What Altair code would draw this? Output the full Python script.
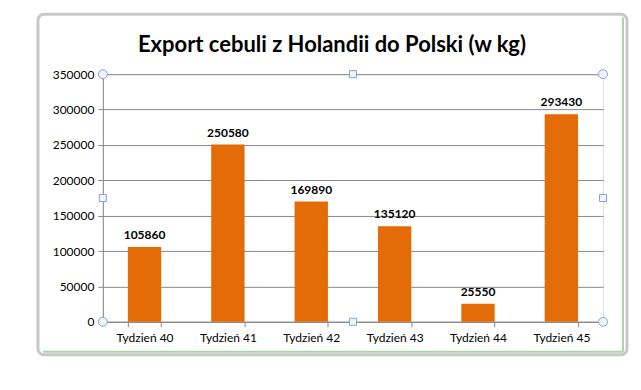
import altair as alt
import pandas as pd

title_text = "Export cebuli z Holandii do Polski  (w kg)"
weeks = ["Tydzień 40", "Tydzień 41", "Tydzień 42", "Tydzień 43", "Tydzień 44", "Tydzień 45"]
values = [105860, 250580, 169890, 135120, 25550, 293430]
y_ticks = [0, 50000, 100000, 150000, 200000, 250000, 300000, 350000]

df = pd.DataFrame({"week": weeks, "value": values})
one = pd.DataFrame({"t": [title_text]})

FONT = "Lato"
W, H = 501, 248

x = alt.X("week:N", sort=weeks, title=None,
          scale=alt.Scale(paddingInner=0.6, paddingOuter=0.3),
          axis=alt.Axis(labelAngle=0, labelFont=FONT, labelFontSize=12, labelColor="#000",
                        tickBand="extent", tickColor="#888", domainColor="#888",
                        labelPadding=6, tickSize=5))
y = alt.Y("value:Q", title=None,
          scale=alt.Scale(domain=[0, 350000], nice=False),
          axis=alt.Axis(values=y_ticks, labelFont=FONT, labelFontSize=12, labelColor="#000",
                        gridColor="#888", gridWidth=1, tickColor="#888", domainColor="#888",
                        tickSize=5, labelPadding=4, format="d", labelOverlap=False))

frame = alt.Chart(one).mark_rect(fillOpacity=0, stroke="#c8c8c8", strokeWidth=3,
                                 cornerRadius=6, clip=False).encode(
    x=alt.value(-65), x2=alt.value(525), y=alt.value(-60), y2=alt.value(281))
green = alt.Chart(one).mark_rule(stroke="#a8d8a8", strokeWidth=2, clip=False).encode(
    x=alt.value(-60), x2=alt.value(521), y=alt.value(278))
green_v = alt.Chart(one).mark_rule(stroke="#a8d8a8", strokeWidth=2, clip=False).encode(
    x=alt.value(521), y=alt.value(-57), y2=alt.value(278))
title = alt.Chart(one).mark_text(font=FONT, fontSize=22, fontWeight="bold", color="#000",
                                 baseline="middle", align="center", clip=False).encode(
    x=alt.value(W / 2 - 21), y=alt.value(-29), text="t:N")

handle_style = dict(fill="#eef4fa", stroke="#8aa4bf", strokeWidth=1, clip=False, opacity=1)
circles = [alt.Chart(one).mark_point(shape="circle", size=80, filled=False, **handle_style).encode(
    x=alt.value(px), y=alt.value(py)) for px, py in [(0, 0), (W, 0), (0, H), (W, H)]]
squares = [alt.Chart(one).mark_point(shape="square", size=50, filled=False, **handle_style).encode(
    x=alt.value(px), y=alt.value(py)) for px, py in [(W / 2, 0), (W / 2, H), (0, H / 2), (W, H / 2)]]

bars = alt.Chart(df).mark_bar(color="#E36C09").encode(x=x, y=y)
labels = alt.Chart(df).mark_text(dy=-12, font=FONT, fontWeight="bold", fontSize=12,
                                 color="#000").encode(
    x=x, y=y, text=alt.Text("value:Q", format="d"))

chart = alt.layer(frame, green, green_v, title, bars, labels, *circles, *squares).properties(
    width=W, height=H,
    padding={"left": 95, "top": 66, "right": 30, "bottom": 40},
    autosize=alt.AutoSizeParams(type="none"),
).configure_view(stroke="#888", strokeWidth=1).configure(background="white")

chart.save("out.html", embed_options={"renderer": "svg", "actions": False})
